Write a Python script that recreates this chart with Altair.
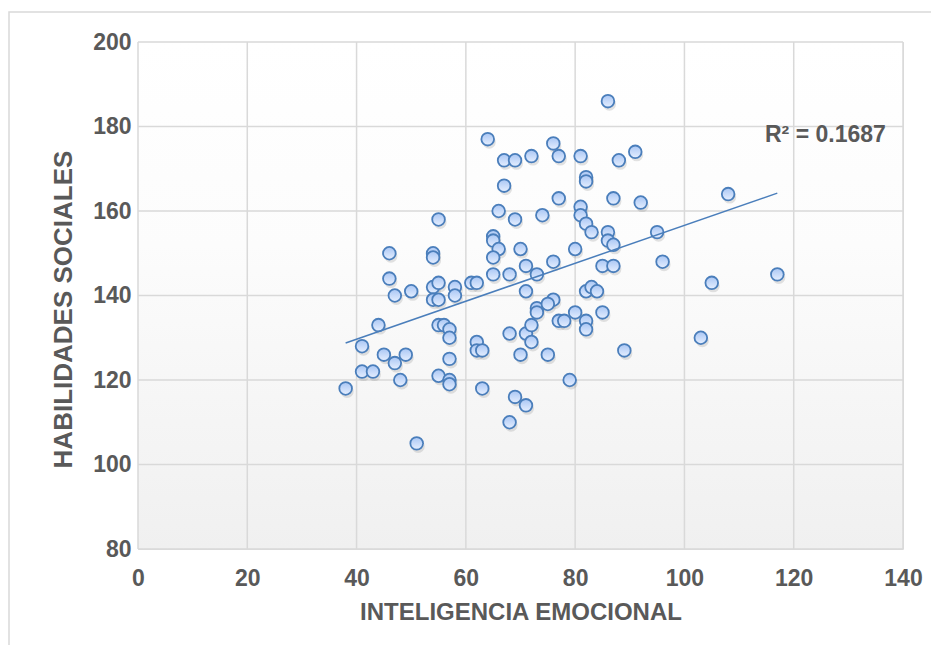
import altair as alt
import pandas as pd

# ---- data ----
ie = [38, 41, 41, 43, 44, 45, 46, 46, 47, 47, 48, 49, 50, 51,
      54, 54, 54, 54, 55, 55, 55, 55, 55, 56, 57, 57, 57, 57, 57, 58, 58,
      61, 62, 62, 62, 63, 63, 64,
      65, 65, 66, 65, 65, 66, 67, 67, 68, 68, 68, 69, 69, 69, 70, 70,
      71, 71, 71, 71, 72, 72, 72, 73, 73, 73, 74, 76, 75, 75, 76, 76,
      77, 77, 77, 78, 79, 80, 80, 81, 81, 81, 82, 82, 82, 82, 82, 82,
      83, 83, 84, 85, 85, 86, 86, 86, 87, 87, 87, 88, 89, 91, 92, 95,
      96, 103, 105, 108, 117]
hs = [118, 128, 122, 122, 133, 126, 150, 144, 140, 124, 120, 126, 141, 105,
      150, 149, 142, 139, 158, 143, 139, 133, 121, 133, 132, 130, 125, 120, 119, 142, 140,
      143, 143, 129, 127, 127, 118, 177,
      154, 153, 151, 149, 145, 160, 166, 172, 145, 131, 110, 172, 158, 116, 151, 126,
      147, 141, 131, 114, 173, 133, 129, 145, 137, 136, 159, 139, 138, 126, 176, 148,
      163, 173, 134, 134, 120, 151, 136, 173, 161, 159, 168, 167, 157, 141, 134, 132,
      155, 142, 141, 147, 136, 186, 155, 153, 163, 152, 147, 172, 127, 174, 162, 155,
      148, 130, 143, 164, 145]

x_ticks = [0, 20, 40, 60, 80, 100, 120, 140]
y_ticks = [80, 100, 120, 140, 160, 180, 200]

r2_label = ["R² = 0.1687"]
r2_x = [125.8]
r2_y = [178.0]

x_title = "INTELIGENCIA EMOCIONAL"
y_title = "HABILIDADES SOCIALES"

df = pd.DataFrame({"ie": ie, "hs": hs})
gx = pd.DataFrame({"v": x_ticks})
gy = pd.DataFrame({"v": y_ticks})
lab = pd.DataFrame({"t": r2_label, "x": r2_x, "y": r2_y})

FONT = "Liberation Sans"
GRAY = "#595959"
GRID = "#d9d9d9"

xs = alt.Scale(domain=[0, 140], nice=False, zero=False)
ys = alt.Scale(domain=[80, 200], nice=False, zero=False)

xaxis = alt.Axis(values=x_ticks, grid=False, domain=False, ticks=False,
                 labelFont=FONT, labelFontSize=23, labelFontWeight="bold",
                 labelColor=GRAY, labelPadding=18, title=x_title,
                 titleFont=FONT, titleFontSize=24, titleFontWeight="bold",
                 titleColor=GRAY, titlePadding=10, labelFlush=False)
yaxis = alt.Axis(values=y_ticks, grid=False, domain=False, ticks=False,
                 labelFont=FONT, labelFontSize=23, labelFontWeight="bold",
                 labelColor=GRAY, labelPadding=7, title=y_title,
                 titleFont=FONT, titleFontSize=26, titleFontWeight="bold",
                 titleColor=GRAY, titlePadding=16, titleY=267, labelFlush=False)

# outer chart border
border = alt.Chart(pd.DataFrame({"a": [0]})).mark_rect(
    fill=None, stroke=GRID, strokeWidth=1.5
).encode(x=alt.value(-129), x2=alt.value(900), y=alt.value(-30), y2=alt.value(700))

bg = alt.Chart(pd.DataFrame({"a": [0]})).mark_rect(
    fill=alt.Gradient(gradient="linear",
                      stops=[alt.GradientStop(color="#ffffff", offset=0),
                             alt.GradientStop(color="#fcfcfc", offset=0.4),
                             alt.GradientStop(color="#f0f0f0", offset=1)],
                      x1=0, x2=0, y1=0, y2=1)
).encode(x=alt.value(0), x2=alt.value("width"), y=alt.value(0), y2=alt.value("height"))

vgrid = alt.Chart(gx).mark_rule(color=GRID, strokeWidth=1.5).encode(
    x=alt.X("v:Q", scale=xs, axis=xaxis))
hgrid = alt.Chart(gy).mark_rule(color=GRID, strokeWidth=1.5).encode(
    y=alt.Y("v:Q", scale=ys, axis=yaxis))

shadow = alt.Chart(df).mark_circle(size=170, color="#7f7f7f", opacity=0.22,
                                   xOffset=1.5, yOffset=3).encode(
    x=alt.X("ie:Q", scale=xs), y=alt.Y("hs:Q", scale=ys))

pts = alt.Chart(df).mark_point(
    shape="circle", filled=True, size=160, strokeWidth=1.8, stroke="#4a7ebb", opacity=1,
    fill=alt.Gradient(gradient="linear",
                      stops=[alt.GradientStop(color="#a9c6f4", offset=0),
                             alt.GradientStop(color="#e6efff", offset=1)],
                      x1=0, x2=0, y1=0, y2=1)
).encode(x=alt.X("ie:Q", scale=xs), y=alt.Y("hs:Q", scale=ys))

trend = alt.Chart(df).transform_regression("ie", "hs").mark_line(
    color="#4a7ebb", strokeWidth=1.5
).encode(x=alt.X("ie:Q", scale=xs), y=alt.Y("hs:Q", scale=ys))

r2 = alt.Chart(lab).mark_text(font=FONT, fontSize=23, fontWeight="bold",
                              color=GRAY, align="center", baseline="middle").encode(
    x=alt.X("x:Q", scale=xs), y=alt.Y("y:Q", scale=ys), text="t:N")

chart = alt.layer(border, bg, vgrid, hgrid, shadow, pts, trend, r2).properties(
    width=765, height=507,
    padding={"left": 130, "top": 34, "right": 28, "bottom": 96},
    autosize=alt.AutoSizeParams(type="none"),
).configure_view(stroke=None).configure(background="white")

chart.save("out.html", embed_options={"renderer": "svg", "actions": False})
